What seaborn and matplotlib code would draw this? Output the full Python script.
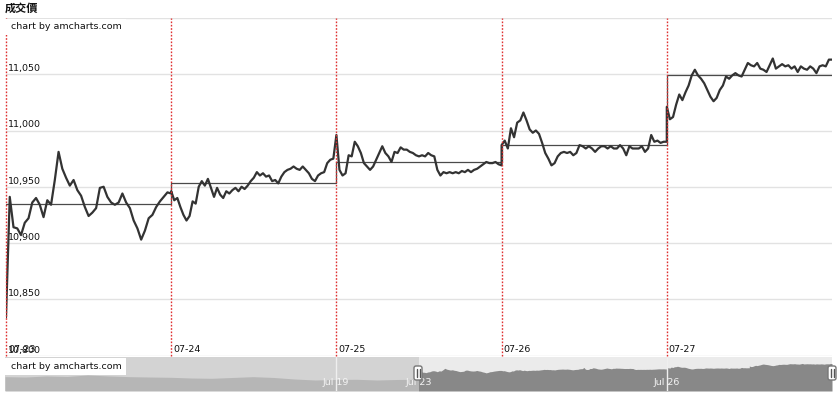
import matplotlib
matplotlib.use("Agg")
import matplotlib.pyplot as plt
import matplotlib.transforms as mtransforms
from matplotlib.patches import FancyBboxPatch, Rectangle
import numpy as np
import pandas as pd
import seaborn as sns

# price readings, one list per trading day
day_labels = ["07-23", "07-24", "07-25", "07-26", "07-27"]
day1 = [10834, 10941, 10914, 10913, 10907, 10918, 10922, 10936, 10940, 10934, 10923, 10938,
        10934, 10956, 10981, 10966, 10958, 10951, 10956, 10947, 10942, 10932, 10924, 10927,
        10931, 10949, 10950, 10941, 10936, 10934, 10936, 10944, 10936, 10931, 10920, 10913,
        10903, 10911, 10922, 10925, 10932, 10937, 10941, 10945, 10944]
day2 = [10946, 10938, 10940, 10932, 10925, 10920, 10924, 10937, 10935, 10950, 10955, 10951,
        10957, 10949, 10941, 10949, 10943, 10940, 10946, 10944, 10947, 10949, 10946, 10950,
        10948, 10951, 10955, 10958, 10963, 10960, 10962, 10959, 10960, 10955, 10956, 10953,
        10959, 10963, 10965, 10966, 10968, 10966, 10965, 10968, 10965, 10962, 10957, 10955,
        10960, 10962, 10963, 10971, 10974, 10975, 10996]
day3 = [10996, 10965, 10960, 10962, 10978, 10977, 10990, 10986, 10980, 10971, 10968, 10965,
        10968, 10974, 10980, 10986, 10980, 10977, 10972, 10981, 10980, 10985, 10983, 10983,
        10981, 10980, 10978, 10977, 10978, 10977, 10980, 10978, 10977, 10965, 10960, 10963,
        10962, 10963, 10962, 10963, 10962, 10964, 10963, 10965, 10963, 10965, 10966, 10968,
        10970, 10972, 10971, 10971, 10972, 10970, 10969]
day4 = [10987, 10991, 10984, 11002, 10994, 11007, 11009, 11016, 11009, 11001, 10998, 11000,
        10997, 10989, 10980, 10975, 10969, 10971, 10977, 10980, 10981, 10980, 10981, 10978,
        10980, 10987, 10986, 10984, 10986, 10984, 10981, 10984, 10986, 10986, 10984, 10986,
        10984, 10984, 10987, 10984, 10978, 10986, 10984, 10984, 10984, 10986, 10981, 10984,
        10996, 10990, 10991, 10989, 10990, 10990]
day5 = [11021, 11010, 11012, 11023, 11032, 11027, 11034, 11040, 11049, 11054, 11049, 11046,
        11042, 11036, 11030, 11026, 11029, 11036, 11040, 11048, 11046, 11049, 11051, 11049,
        11048, 11054, 11060, 11058, 11057, 11060, 11055, 11054, 11052, 11058, 11064, 11055,
        11057, 11059, 11057, 11058, 11055, 11057, 11052, 11057, 11055, 11054, 11057, 11055,
        11051, 11057, 11058, 11057, 11063, 11063]
day_avg = [10935, 10953, 10972, 10987, 11049]

# scrollbar: the five days before the visible range
scroll_prev = [10838, 10832, 10850, 10841, 10867, 10850, 10838, 10832, 10827, 10815, 10810,
               10824, 10838, 10824, 10798, 10781, 10790, 10793, 10781, 10790, 10793]
scroll_labels = ["Jul 19", "Jul 23", "Jul 26"]
scroll_label_days = [4, 5, 8]
scroll_divider_days = [4, 8]

W, H = 838, 395
PX = mtransforms.Affine2D().scale(1, -1).translate(0, H)  # top-left pixel coords


def fig_rect(x0, y0, x1, y1):
    return [x0 / W, 1 - y1 / H, (x1 - x0) / W, (y1 - y0) / H]


days = [day1, day2, day3, day4, day5]
frames = []
for d, vals in enumerate(days):
    frames.append(pd.DataFrame({"t": np.linspace(d, d + 1, len(vals)), "price": vals}))
df = pd.concat(frames, ignore_index=True)
avg_df = pd.DataFrame({"t": np.arange(len(day_avg) + 1), "avg": day_avg + [day_avg[-1]]})

sns.set_style("white")
plt.rcParams["font.family"] = ["DejaVu Sans", "Noto Sans CJK TC"]

fig = plt.figure(figsize=(W / 100, H / 100), dpi=100, facecolor="white")
ax = fig.add_axes(fig_rect(6, 18, 832, 355.5))

sns.lineplot(data=avg_df, x="t", y="avg", ax=ax, color="#4a4a4a", lw=0.9,
             drawstyle="steps-post", estimator=None, sort=False, zorder=3)
sns.lineplot(data=df, x="t", y="price", ax=ax, color="#333333", lw=1.6,
             estimator=None, sort=False, zorder=4)

ax.set_xlim(0, 5)
ax.set_ylim(10800, 11100)
ax.set_yticks(np.arange(10800, 11101, 50))
ax.grid(axis="y", color="#e2e2e2", lw=1)
ax.grid(axis="x", visible=False)
ax.set_axisbelow(True)
ax.tick_params(length=0, labelleft=False, labelbottom=False)
ax.set_xlabel("")
ax.set_ylabel("")
for s in ax.spines.values():
    s.set_visible(False)

for d in range(len(day_labels)):
    ax.axvline(d, color="#e03030", lw=1, ls=(0, (1.2, 1.2)), zorder=5, clip_on=False)
    ax.annotate(day_labels[d], xy=(d, 10800), xytext=(2, 1), textcoords="offset pixels",
                fontsize=6.8, ha="left", va="bottom", color="#111")

for v in np.arange(10800, 11051, 50):
    ax.annotate(f"{v:,}", xy=(0, v), xycoords=("axes fraction", "data"), xytext=(2, 1),
                textcoords="offset pixels", fontsize=6.8, ha="left", va="bottom", color="#111")

# scrollbar
sax = fig.add_axes(fig_rect(5, 357, 832, 391))
sax.set_xlim(0, 10)
sax.set_ylim(10593, 11174)
sax.axvspan(0, 5, color="#d3d3d3", lw=0)
sax.axvspan(5, 10, color="#ebebeb", lw=0)
sax.fill_between(np.linspace(0, 5, len(scroll_prev)), 10593, scroll_prev, color="#b6b6b6", lw=0)
sax.fill_between(df["t"] + 5, 10593, df["price"], color="#888888", lw=0)
for d in scroll_divider_days:
    sax.axvline(d, color="#efefef", lw=1)
for lab, d in zip(scroll_labels, scroll_label_days):
    sax.text(d, 0.26, lab, transform=sax.get_xaxis_transform(), ha="center", va="center",
             fontsize=6.8, color="#f4f4f4")
sax.set_xticks([])
sax.set_yticks([])
for s in sax.spines.values():
    s.set_visible(False)

# scrollbar grips
for gx in [418, 832]:
    fig.add_artist(FancyBboxPatch((gx - 4, 366), 8, 14, boxstyle="round,pad=0,rounding_size=2",
                                  transform=PX, facecolor="white", edgecolor="#777", lw=1))
    for lx in [gx - 1.5, gx + 1.5]:
        fig.add_artist(plt.Line2D([lx, lx], [369, 377], transform=PX, color="#555", lw=1))

# watermark labels
for y0, y1 in [(18.5, 35), (358, 375)]:
    fig.add_artist(Rectangle((4, y0), 122, y1 - y0, transform=PX, facecolor="white",
                             edgecolor="none"))
    fig.text(11 / W, 1 - (y0 + y1) / 2 / H, "chart by amcharts.com", fontsize=6.8,
             va="center", ha="left", color="#111")

fig.text(5 / W, 1 - 8 / H, "成交價", fontsize=8, fontweight="bold",
         family=["Noto Sans CJK TC", "DejaVu Sans"], va="center", ha="left", color="#111")

fig.savefig("out.png", dpi=100)
